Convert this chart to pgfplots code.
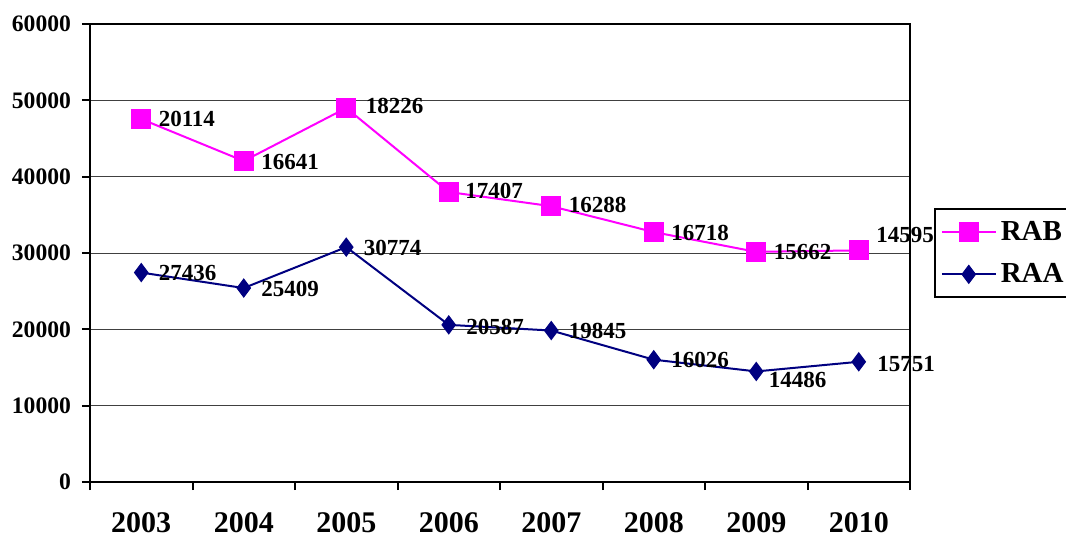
\documentclass[border=0pt]{standalone}
\usepackage{fontspec}
\setmainfont{Liberation Serif}
\usepackage{pgfplots}
\usepackage{pgfplotstable}
\pgfplotsset{compat=1.18}
\definecolor{rab}{RGB}{255,0,255}
\definecolor{raa}{RGB}{0,0,128}
\pgfplotstableread{
x val dx dy
0 27436 0 0
1 25409 0 -0.5
2 30774 0 -0.5
3 20587 0 -1
4 19845 0 0
5 16026 0 0
6 14486 -2.5 -4.5
7 15751 0.5 -1
}\raa
\pgfplotstableread{
x val dx dy
0 20114 0 0
1 16641 0 -0.5
2 18226 1 1
3 17407 -0.5 0.5
4 16288 0 0.5
5 16718 0 -0.5
6 15662 0 0
7 14595 0 7.5
}\rab
\begin{document}
\begin{tikzpicture}
\useasboundingbox (0,0) rectangle (533pt,268.5pt);
\begin{axis}[
  at={(45pt,27.5pt)}, anchor=south west,
  scale only axis, width=410pt, height=229pt,
  xmin=-0.5, xmax=7.5, ymin=0, ymax=60000,
  xtick={0,...,7},
  xticklabels={2003,2004,2005,2006,2007,2008,2009,2010},
  minor xtick={-0.5,0.5,...,7.5},
  ytick={0,10000,...,60000},
  tick align=outside, tick pos=left,
  major tick length=4pt, minor tick length=4pt,
  major x tick style={draw=none},
  minor x tick style={black, line width=1pt},
  ytick style={black, line width=1pt},
  axis line style={black, line width=1pt},
  ymajorgrids, grid style={black!75, line width=0.5pt},
  /pgf/number format/assume math mode=true,
  /pgf/number format/.cd, fixed, set thousands separator={}, /pgfplots/.cd,
  yticklabel style={font=\bfseries\fontsize{11.8}{13}\selectfont, xshift=-2pt},
  xticklabel style={font=\bfseries\fontsize{15}{17}\selectfont, yshift=-7.5pt},
  scaled y ticks=false,
  stack plots=y,
  nodes near coords,
  point meta=explicit,
  visualization depends on={\thisrow{dx} \as \dx},
  visualization depends on={\thisrow{dy} \as \dy},
  nodes near coords style={font=\bfseries\fontsize{11.5}{13}\selectfont, anchor=west, inner sep=0pt, xshift=8.5pt+\dx pt, yshift=\dy pt, text=black,
    /pgf/number format/.cd, fixed, set thousands separator={}},
  reverse legend,
  legend style={at={(1.029,0.598)}, anchor=north west, draw=black, line width=1pt,
    font=\bfseries\fontsize{14.5}{17}\selectfont, inner xsep=3pt, inner ysep=4pt, row sep=6pt},
  legend cell align=left,
  legend image code/.code={\draw[mark repeat=2,mark phase=2,#1] plot coordinates {(0pt,0pt)(13.5pt,0pt)(27pt,0pt)};},
]
\addplot[raa, line width=1pt, mark=diamond*, mark size=4.5pt, mark options={fill=raa, draw=raa, line width=0.5pt}]
  table[x=x, y=val, meta=val] {\raa};
\addlegendentry{RAA}
\addplot[rab, line width=1pt, mark=square*, mark size=4.7pt, mark options={fill=rab, draw=rab, line width=0.5pt}]
  table[x=x, y=val, meta=val] {\rab};
\addlegendentry{RAB}
\end{axis}
\end{tikzpicture}
\end{document}
